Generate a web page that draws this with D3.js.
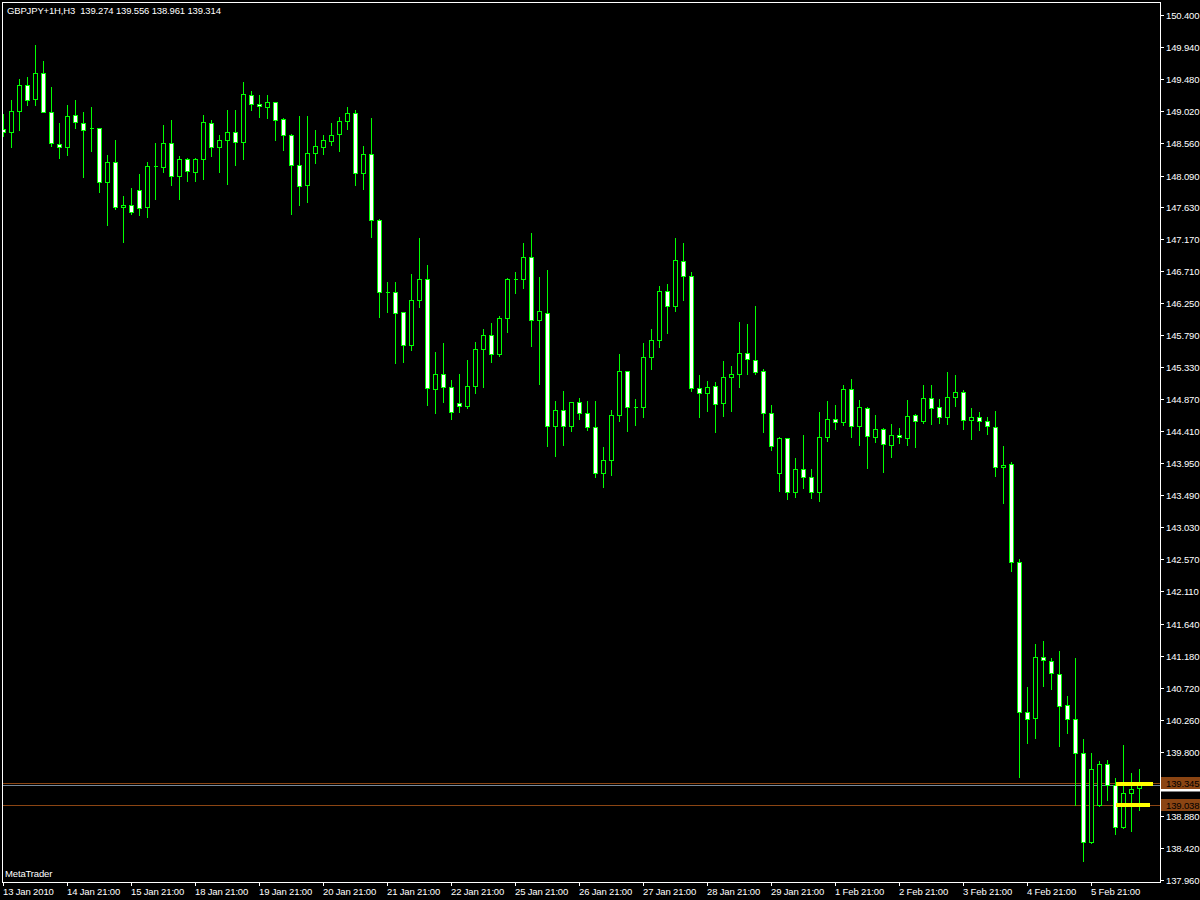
<!DOCTYPE html>
<html><head><meta charset="utf-8">
<script src="https://cdn.jsdelivr.net/npm/d3@7"></script>
<style>
html,body{margin:0;padding:0;background:#000;}
svg{display:block;}
text{font-family:"Liberation Sans",Arial,sans-serif;font-size:9.5px;letter-spacing:-0.15px;white-space:pre;}
</style>
</head><body><svg id="c" width="1200" height="900"></svg>
<script>
// ---------- data ----------
const symbol = "GBPJPY+1H,H3";
const openP = [148.762,148.719,149.021,149.395,149.188,149.568,149.007,148.546,148.503,148.964,
148.849,148.771,148.777,147.994,148.287,147.640,147.669,147.884,147.634,148.234,
148.210,148.561,148.080,148.331,148.138,148.325,148.849,148.497,148.604,148.719,
148.575,149.252,149.122,149.079,149.151,148.906,148.676,148.244,147.956,148.411,
148.497,148.584,148.685,148.872,148.993,148.129,148.403,147.453,146.417,146.417,
146.129,145.648,146.301,146.604,145.021,145.236,145.049,144.819,144.776,145.064,
145.596,145.798,145.519,146.042,146.608,146.604,146.920,146.014,146.114,144.488,
144.718,144.488,144.834,144.675,144.474,143.812,143.999,144.646,145.280,144.762,
144.762,145.481,145.726,146.431,146.215,146.863,146.647,145.035,144.963,145.064,
144.819,145.193,145.236,145.539,145.438,145.280,144.675,143.812,144.315,143.538,
143.869,143.754,143.538,144.330,144.589,144.546,145.021,144.488,144.747,144.330,
144.445,144.215,144.359,144.315,144.646,144.560,144.891,144.762,144.618,144.906,
144.977,144.575,144.618,144.560,144.474,143.898,143.941,142.531,140.372,140.286,
141.164,141.111,140.919,140.473,140.272,139.782,138.502,139.028,139.624,139.322,
138.717,139.207,139.274];
const highP = [148.978,149.170,149.472,149.511,149.975,149.731,149.367,148.839,149.108,149.184,
149.011,149.083,148.777,148.392,148.608,147.792,147.913,148.119,148.287,148.561,
148.824,148.882,148.378,148.349,148.339,148.954,148.896,148.680,149.026,149.040,
149.443,149.313,149.256,149.242,149.151,148.911,148.690,148.944,148.944,148.738,
148.680,148.839,148.939,149.069,149.040,148.508,148.911,147.471,146.565,146.565,
146.129,146.666,147.198,146.805,145.553,145.683,145.150,145.241,145.442,145.697,
145.884,145.970,146.071,146.618,146.704,147.112,147.270,146.632,146.737,144.852,
144.996,144.834,144.895,144.852,144.852,144.190,144.723,145.529,145.280,144.881,
145.673,145.884,146.503,146.522,147.198,147.112,146.709,145.222,145.140,145.121,
145.428,145.352,145.989,145.956,146.219,145.308,144.790,144.330,144.315,144.028,
144.359,143.869,144.690,144.848,144.790,145.078,145.165,144.862,144.762,144.646,
144.459,144.517,144.459,144.862,144.661,145.078,145.078,144.877,145.265,145.222,
145.006,144.747,144.690,144.618,144.704,144.200,143.974,142.578,140.726,141.355,
141.398,141.154,141.255,140.597,141.154,139.988,139.787,139.671,139.686,139.422,
139.902,139.494,139.556];
const lowP = [148.656,148.497,148.752,149.102,149.112,149.007,148.512,148.339,148.382,148.777,
148.066,148.440,147.850,147.385,147.615,147.130,147.533,147.519,147.490,147.759,
148.138,147.951,147.759,148.018,148.018,148.047,148.368,148.138,147.961,148.238,
148.331,149.040,148.929,148.911,148.608,148.454,147.533,147.663,147.706,148.267,
148.397,148.526,148.440,148.757,147.951,147.903,147.202,146.051,146.123,145.389,
145.403,145.586,146.195,144.785,144.670,144.828,144.583,144.694,144.741,144.957,
145.044,145.403,145.490,145.835,146.396,146.468,145.634,145.087,144.195,144.051,
144.209,144.410,144.583,144.425,143.748,143.605,143.777,144.554,144.410,144.497,
144.612,145.303,145.619,145.821,146.143,146.296,144.986,144.612,144.698,144.396,
144.626,144.698,145.044,145.231,145.231,144.396,144.137,143.547,143.432,143.461,
143.590,143.456,143.403,144.267,144.439,144.497,144.324,144.209,143.878,144.252,
143.820,144.036,144.238,144.209,144.180,144.531,144.511,144.526,144.511,144.770,
144.439,144.295,144.425,144.367,143.763,143.374,142.396,139.437,139.926,139.992,
140.741,140.698,139.877,140.064,139.038,138.222,138.487,139.014,139.100,138.611,
138.703,138.654,138.961];
const closeP = [148.719,149.021,149.395,149.174,149.568,149.007,148.561,148.503,148.949,148.863,
148.748,148.771,147.994,148.287,147.634,147.669,147.568,147.620,148.234,148.234,
148.561,148.080,148.331,148.158,148.331,148.863,148.503,148.604,148.719,148.575,
149.266,149.122,149.093,149.151,148.892,148.676,148.244,147.946,148.417,148.518,
148.604,148.676,148.877,148.993,148.129,148.403,147.453,146.417,146.417,146.114,
145.654,146.301,146.604,145.035,145.236,145.049,144.690,144.776,145.064,145.596,
145.798,145.524,146.042,146.604,146.608,146.920,146.014,146.143,144.488,144.718,
144.488,144.834,144.675,144.474,143.812,143.999,144.646,145.280,144.762,144.762,
145.481,145.726,146.431,146.215,146.877,146.647,145.035,144.963,145.049,144.805,
145.193,145.241,145.539,145.452,145.265,144.675,144.200,144.315,143.538,143.869,
143.754,143.538,144.330,144.589,144.546,145.021,144.488,144.762,144.344,144.445,
144.229,144.359,144.330,144.632,144.560,144.891,144.747,144.618,144.906,144.977,
144.575,144.618,144.560,144.488,143.898,143.927,142.531,140.372,140.272,141.164,
141.115,140.934,140.459,140.272,139.782,138.502,139.552,139.624,139.322,138.717,
139.207,139.264,139.314];
const dateLabels = ["13 Jan 2010","14 Jan 21:00","15 Jan 21:00","18 Jan 21:00","19 Jan 21:00",
"20 Jan 21:00","21 Jan 21:00","22 Jan 21:00","25 Jan 21:00","26 Jan 21:00","27 Jan 21:00",
"28 Jan 21:00","29 Jan 21:00","1 Feb 21:00","2 Feb 21:00","3 Feb 21:00","4 Feb 21:00","5 Feb 21:00"];
const barsPerLabel = 8;
const priceTicks = ["150.400","149.940","149.480","149.020","148.560","148.090","147.630","147.170",
"146.710","146.250","145.790","145.330","144.870","144.410","143.950","143.490","143.030","142.570",
"142.110","141.640","141.180","140.720","140.260","139.800","139.340","138.880","138.420","137.960"];
const hLevels = ["139.345","139.038"];
const bidPrice = "139.314";
const yellowFromBar = [139, 139];
const yellowToBar = [143.65, 143.3];

// ---------- drawing ----------
const svg = d3.select("#c");
svg.append("rect").attr("width",1200).attr("height",900).attr("fill","#000");

const n = openP.length;
const x = d3.scaleLinear().domain([0, n-1]).range([3.5, 3.5 + 8*(n-1)]);
const y = d3.scaleLinear().domain([137.96, 150.4]).range([880, 15.5]);
const py = v => Math.round(y(v) - 0.5) + 0.5;

const L = 2.5, T = 2.5, R = 1160.5, B = 882.5;
svg.append("defs").append("clipPath").attr("id","clip")
  .append("rect").attr("x",L+0.5).attr("y",T+0.5).attr("width",R-L-1).attr("height",B-T-1);

// frame
svg.append("path").attr("d",`M${L},${B}V${T}H${R}V${B}H${L}`)
  .attr("fill","none").attr("stroke","#fff").attr("stroke-width",1).attr("shape-rendering","crispEdges");

const plotG = svg.append("g").attr("clip-path","url(#clip)").attr("shape-rendering","crispEdges");

// horizontal lines
hLevels.forEach(v => {
  plotG.append("line").attr("x1",L).attr("x2",R).attr("y1",py(+v)).attr("y2",py(+v))
    .attr("stroke","#8b4513").attr("stroke-width",1);
});
plotG.append("line").attr("x1",L).attr("x2",R).attr("y1",py(+bidPrice)).attr("y2",py(+bidPrice))
  .attr("stroke","#778899").attr("stroke-width",1);

// candles
const bars = d3.range(n).map(i => ({i, o:openP[i], h:highP[i], l:lowP[i], c:closeP[i]}));
const cg = plotG.selectAll("g.bar").data(bars).join("g").attr("class","bar");
cg.append("line")
  .attr("x1",d=>x(d.i)).attr("x2",d=>x(d.i))
  .attr("y1",d=>py(d.h)-0.5).attr("y2",d=>py(d.l)+0.5)
  .attr("stroke","#00ff00").attr("stroke-width",1);
cg.append("path")
  .attr("d",d=>{
    const t = py(Math.max(d.o,d.c)), b = py(Math.min(d.o,d.c)), cx = x(d.i);
    return `M${cx-2},${t}H${cx+2}V${b}H${cx-2}Z`;
  })
  .attr("fill",d=> d.c > d.o ? "#000" : (d.c < d.o ? "#fff" : "none"))
  .attr("stroke","#00ff00").attr("stroke-width",1);

// yellow segments
hLevels.forEach((v,k) => {
  plotG.append("line").attr("x1",x(yellowFromBar[k])).attr("x2",x(yellowToBar[k]))
    .attr("y1",y(+v)).attr("y2",y(+v))
    .attr("stroke","#ffff00").attr("stroke-width",4);
});

// right axis
const ax = svg.append("g");
priceTicks.forEach(t => {
  const yy = py(+t);
  ax.append("line").attr("x1",R).attr("x2",R+3).attr("y1",yy).attr("y2",yy)
    .attr("stroke","#fff").attr("shape-rendering","crispEdges");
  ax.append("text").attr("x",1166).attr("y",yy+3.5).attr("fill","#fff").text(t);
});
// bid label (mostly hidden)
ax.append("rect").attr("x",R+0.5).attr("y",py(+bidPrice)-6).attr("width",40).attr("height",12).attr("fill","#fff");
ax.append("text").attr("x",1166).attr("y",py(+bidPrice)+3.5).attr("fill","#000").text(bidPrice);
// level labels
hLevels.forEach(v => {
  const yy = py(+v);
  ax.append("rect").attr("x",R+0.5).attr("y",yy-6.5).attr("width",40).attr("height",12).attr("fill","#8b4513");
  ax.append("text").attr("x",1166).attr("y",yy+3.5).attr("fill","#000").text(v);
});

// bottom axis
dateLabels.forEach((s,k) => {
  const xx = x(k*barsPerLabel);
  ax.append("line").attr("x1",xx).attr("x2",xx).attr("y1",B).attr("y2",B+3)
    .attr("stroke","#fff").attr("shape-rendering","crispEdges");
  ax.append("text").attr("x",xx-0.5).attr("y",895).attr("fill","#fff").text(s);
});

// texts
const last = n-1;
svg.append("text").attr("x",7).attr("y",14).attr("fill","#fff")
  .text(`${symbol}  ${openP[last].toFixed(3)} ${highP[last].toFixed(3)} ${lowP[last].toFixed(3)} ${closeP[last].toFixed(3)}`);
svg.append("text").attr("x",5).attr("y",877).attr("fill","#fff").text("MetaTrader");
</script>
</body></html>
